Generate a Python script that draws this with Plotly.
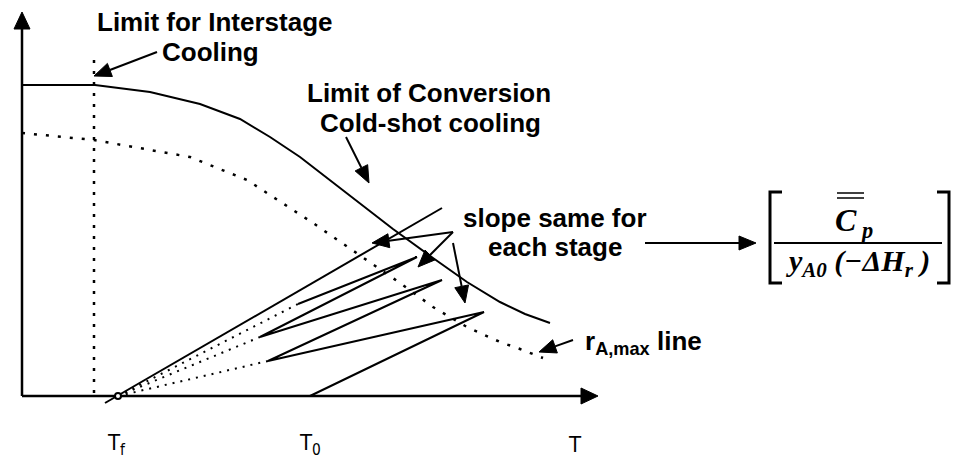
import numpy as np
import plotly.graph_objects as go

# Coordinates: x = temperature position, y = conversion position (screen units, y grows downward)

# Equilibrium limit of conversion (solid curve)
conv_T = [22, 60, 95, 150, 200, 240, 270, 300, 330, 360, 393, 433, 467, 500, 525, 550]
conv_X = [85, 85, 85, 92, 104, 119, 137, 157, 180, 203, 229, 258, 282, 302, 314, 323]

# Maximum-rate locus r_A,max (dotted curve)
rmax_T = [22, 94, 190, 247, 313, 363, 400, 433, 467, 500, 520, 543]
rmax_X = [133, 140, 157, 180, 223, 257, 283, 307, 327, 342, 349, 358]

# Feed temperature point and the interstage-cooling limit
Tf_point = (118, 396)
interstage_T = 94
interstage_top = 60

# Adiabatic operating path: T0 -> stage ends / cold-shot mixing points
stage_T = [310, 484, 268, 442, 260, 417, 298]
stage_X = [396, 312, 361, 280, 337, 257, 304]

# Operating line from the feed point with the common adiabatic slope
feed_line_T = [105, 442]
feed_line_X = [403, 208]

# Axes
axis_origin = (22, 396)
x_axis_tip = (598, 396)
y_axis_tip = (22, 12)

# Pointer arrows (tail -> tip)
pointers = [
    ((157, 52), (94, 76)),
    ((346, 137), (369, 183)),
    ((453, 232), (372, 243)),
    ((453, 232), (418, 267)),
    ((453, 243), (465, 303)),
    ((573, 340), (539, 352)),
    ((645, 243), (756, 243)),
]

# Axis tick labels
tick_T = [116, 310, 575]
tick_labels = ["T<sub>f</sub>", "T<sub>0</sub>", "T"]

BLACK = "#000000"
fig = go.Figure()


def add_line(xs, ys, width=2, dash="solid"):
    fig.add_trace(go.Scatter(x=xs, y=ys, mode="lines",
                             line=dict(color=BLACK, width=width, dash=dash),
                             hoverinfo="skip"))


def add_head(tail, tip, length=17, half=7):
    (x0, y0), (x1, y1) = tail, tip
    d = np.array([x1 - x0, y1 - y0], dtype=float)
    d /= np.hypot(*d)
    n = np.array([-d[1], d[0]])
    base = np.array([x1, y1]) - d * length
    p1 = base + n * half
    p2 = base - n * half
    fig.add_trace(go.Scatter(x=[x1, p1[0], p2[0], x1], y=[y1, p1[1], p2[1], y1],
                             mode="lines", fill="toself", fillcolor=BLACK,
                             line=dict(color=BLACK, width=1), hoverinfo="skip"))
    return base


def add_arrow(tail, tip, width=2, length=17, half=7):
    base = add_head(tail, tip, length, half)
    add_line([tail[0], base[0]], [tail[1], base[1]], width=width)


# axes
add_arrow(axis_origin, x_axis_tip, width=2.5, length=17, half=8)
add_arrow(axis_origin, y_axis_tip, width=2.5, length=17, half=8)

# curves
add_line(conv_T, conv_X, width=2)
add_line(rmax_T, rmax_X, width=2.5, dash="3px,9px")
add_line([interstage_T, interstage_T], [interstage_top, axis_origin[1]], width=2.5, dash="3px,8px")

# cold-shot mixing lines extended back to the feed point
for i in (2, 4, 6):
    add_line([Tf_point[0], stage_T[i]], [Tf_point[1], stage_X[i]], width=2, dash="2px,6px")

# stage path and feed operating line
add_line(stage_T, stage_X, width=2)
add_line(feed_line_T, feed_line_X, width=2)

# feed point marker
fig.add_trace(go.Scatter(x=[Tf_point[0]], y=[Tf_point[1]], mode="markers",
                         marker=dict(size=6, color="white", line=dict(color=BLACK, width=2)),
                         hoverinfo="skip"))

# pointer arrows
for tail, tip in pointers:
    add_arrow(tail, tip, width=2)

# bracketed slope expression
bracket_top, bracket_bot = 192, 283
add_line([782, 770, 770, 782], [bracket_top, bracket_top, bracket_bot, bracket_bot], width=3)
add_line([937, 949, 949, 937], [bracket_top, bracket_top, bracket_bot, bracket_bot], width=3)
add_line([774, 942], [243, 243], width=2)
add_line([837, 864], [193, 193], width=1.5)
add_line([837, 864], [198, 198], width=1.5)

SANS = "Liberation Sans, Arial, sans-serif"
SERIF = "Liberation Serif, Times New Roman, serif"
NB = "\u00a0"


def label(x, y, text, size=26, family=SANS, xanchor="center"):
    fig.add_annotation(x=x, y=y, xref="x", yref="y", text=text, showarrow=False,
                       xanchor=xanchor, yanchor="middle",
                       font=dict(family=family, size=size, color=BLACK))


label(214, 22, "<b>Limit for Interstage</b>")
label(210, 52, "<b>Cooling</b>")
label(429, 93, "<b>Limit of Conversion</b>")
label(430, 123, "<b>Cold-shot cooling</b>")
label(555, 218, "<b>slope same for</b>")
label(555, 247, "<b>each stage</b>")
label(583, 342, "<b>r<sub>A,max</sub> line</b>", xanchor="left")

label(854, 222, "<b><i>C<sub>" + NB + "p</sub></i></b>", size=32, family=SERIF)
label(858, 263, "<b><i>y<sub>A0</sub>" + NB + "(−ΔH<sub>r</sub>" + NB + ")</i></b>",
      size=30, family=SERIF)

for t, s in zip(tick_T, tick_labels):
    label(t, 444, s, size=22, family="Liberation Sans Narrow, Arial Narrow, DejaVu Sans Condensed, sans-serif")

fig.update_layout(
    width=958, height=461,
    margin=dict(l=0, r=0, t=0, b=0),
    paper_bgcolor="white", plot_bgcolor="white",
    showlegend=False,
    xaxis=dict(range=[0, 958], visible=False, fixedrange=True),
    yaxis=dict(range=[461, 0], visible=False, fixedrange=True),
)

fig.write_html("out.html")
